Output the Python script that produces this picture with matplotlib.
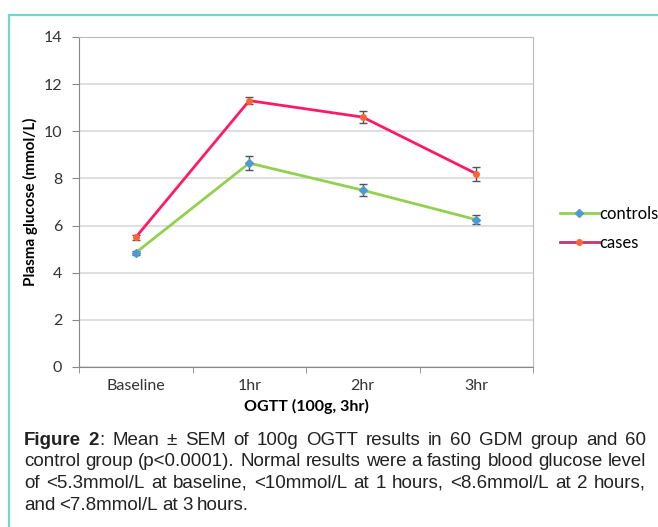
import matplotlib
matplotlib.use("Agg")
import matplotlib.pyplot as plt
from matplotlib.lines import Line2D

# Data
timepoints = ["Baseline", "1hr", "2hr", "3hr"]
controls_mean = [4.85, 8.65, 7.5, 6.25]
controls_sem = [0.08, 0.3, 0.25, 0.2]
cases_mean = [5.5, 11.3, 10.6, 8.2]
cases_sem = [0.1, 0.15, 0.25, 0.3]
y_ticks = [0, 2, 4, 6, 8, 10, 12, 14]

caption_lines = [
    "Figure 2: Mean ± SEM of 100g OGTT results in 60 GDM group and 60",
    "control group (p<0.0001). Normal results were a fasting blood glucose level",
    "of <5.3mmol/L at baseline, <10mmol/L at 1 hours, <8.6mmol/L at 2 hours,",
    "and <7.8mmol/L at 3 hours.",
]

W, H = 658, 527
fig = plt.figure(figsize=(W / 100, H / 100), dpi=100)

# teal frame (top and left edges)
teal = "#74d6c6"
fig.add_artist(Line2D([9 / W, 1], [1 - 15 / H, 1 - 15 / H], color=teal, lw=1.6))
fig.add_artist(Line2D([9 / W, 9 / W], [0, 1 - 15 / H], color=teal, lw=1.6))

ax = fig.add_axes([79 / W, 1 - 367 / H, (533 - 79) / W, (367 - 37) / H])
x = list(range(len(timepoints)))

green, blue = "#92d050", "#4f9ad0"
pink, orange = "#ff1a66", "#ff6633"

ax.errorbar(x, controls_mean, yerr=controls_sem, color=green, lw=2,
            marker="D", ms=4, mfc=blue, mec=blue,
            ecolor="#555555", elinewidth=1, capsize=3, capthick=1, zorder=3)
ax.errorbar(x, cases_mean, yerr=cases_sem, color=pink, lw=2,
            marker="o", ms=4, mfc=orange, mec=orange,
            ecolor="#555555", elinewidth=1, capsize=3, capthick=1, zorder=3)

ax.set_xlim(-0.5, 3.5)
ax.set_ylim(0, 14)
ax.set_yticks(y_ticks)
ax.set_xticks(x)
ax.set_xticklabels(timepoints)
ax.set_xticks([i - 0.5 for i in range(len(timepoints) + 1)], minor=True)
ax.tick_params(axis="x", which="major", length=0, pad=9)
ax.tick_params(axis="x", which="minor", length=4, color="#888888", direction="out")
ax.tick_params(axis="y", length=5, color="#888888", pad=7)
for lab in ax.get_xticklabels() + ax.get_yticklabels():
    lab.set_fontfamily("Lato")
    lab.set_fontsize(11.5)
    lab.set_color("#333333")

ax.grid(axis="y", color="#d9d9d9", lw=1.2)
ax.set_axisbelow(True)
for side in ["top", "right"]:
    ax.spines[side].set_color("#bbbbbb")
for side in ["left", "bottom"]:
    ax.spines[side].set_color("#888888")

ax.set_ylabel("Plasma glucose (mmol/L)", fontfamily="Lato", fontweight="bold",
              fontsize=11, labelpad=4)
ax.set_xlabel("OGTT (100g, 3hr)", fontfamily="Lato", fontweight="bold",
              fontsize=11.5, labelpad=4)

handles = [
    Line2D([], [], color=green, lw=2, marker="D", ms=4, mfc=blue, mec=blue),
    Line2D([], [], color="#c8326e", lw=2, marker="o", ms=4, mfc=orange, mec=orange),
]
ax.legend(handles, ["controls", "cases"], loc="center left",
          bbox_to_anchor=(1.06, 0.42), frameon=False,
          handlelength=2.3, handletextpad=0.05, labelspacing=0.75,
          borderaxespad=0, borderpad=0,
          prop={"family": "Lato", "size": 12})

# justified caption
renderer = fig.canvas.get_renderer()
x_left, x_right = 24 / W, 646 / W
baselines = [445, 466.5, 488, 509.5]
fs = 13.5
for i, line in enumerate(caption_lines):
    words = line.split(" ")
    y = 1 - baselines[i] / H
    pieces = []
    for j, w in enumerate(words):
        if i == 0 and j == 0:
            pieces.append([("Figure", "bold")])
        elif i == 0 and j == 1:
            pieces.append([("2", "bold"), (":", "normal")])
        else:
            pieces.append([(w, "normal")])
    # measure each word
    widths = []
    for p in pieces:
        wsum = 0
        for txt, weight in p:
            t = fig.text(0, 0, txt, fontsize=fs, fontfamily="Liberation Sans",
                         fontweight=weight)
            wsum += t.get_window_extent(renderer).width / W
            t.remove()
        widths.append(wsum)
    if i < len(caption_lines) - 1:
        gap = (x_right - x_left - sum(widths)) / (len(pieces) - 1)
    else:
        gap = 4.2 / W
    xp = x_left
    for p, wd in zip(pieces, widths):
        xx = xp
        for txt, weight in p:
            t = fig.text(xx, y, txt, fontsize=fs, fontfamily="Liberation Sans",
                         fontweight=weight, color="#222222", va="baseline")
            xx += t.get_window_extent(renderer).width / W
        xp += wd + gap

fig.savefig("out.png", dpi=100)
